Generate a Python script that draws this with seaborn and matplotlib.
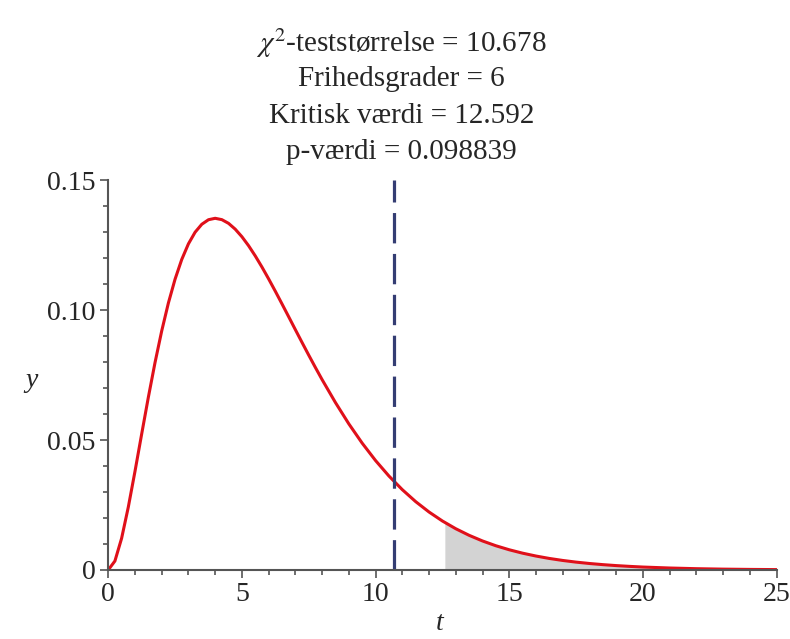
import numpy as np
import pandas as pd
import seaborn as sns
import matplotlib.pyplot as plt

# chi^2 density (6 df)
t_vals = [0, 0.25, 0.5, 0.75, 1, 1.25, 1.5, 1.75, 2, 2.25, 2.5, 2.75, 3, 3.25, 3.5,
          3.75, 4, 4.25, 4.5, 4.75, 5, 5.25, 5.5, 5.75, 6, 6.25, 6.5, 6.75, 7, 7.25,
          7.5, 7.75, 8, 8.5, 9, 9.5, 10, 10.5, 11, 11.5, 12, 12.5, 13, 13.5, 14,
          14.5, 15, 15.5, 16, 16.5, 17, 17.5, 18, 18.5, 19, 19.5, 20, 21, 22, 23,
          24, 25]
y_vals = [0, 0.00345, 0.01217, 0.02416, 0.03791, 0.05227, 0.06643, 0.07980, 0.09197,
          0.10273, 0.11191, 0.11950, 0.12551, 0.12999, 0.13304, 0.13479, 0.13534,
          0.13482, 0.13340, 0.13116, 0.12825, 0.12479, 0.12086, 0.11658, 0.11202,
          0.10727, 0.10239, 0.09745, 0.09248, 0.08755, 0.08268, 0.07791, 0.07326,
          0.06442, 0.05623, 0.04880, 0.04211, 0.03616, 0.03091, 0.02631, 0.02231,
          0.01885, 0.01588, 0.01334, 0.01117, 0.00933, 0.00778, 0.00647, 0.00537,
          0.00444, 0.00367, 0.00303, 0.00250, 0.00206, 0.00169, 0.00139, 0.00113,
          0.00076, 0.00050, 0.00033, 0.00022, 0.00015]

test_stat = 10.678
crit_val = 12.592
crit_y = 0.01826
title_lines = ["$\\chi^2$-teststørrelse = 10.678", "Frihedsgrader = 6",
               "Kritisk værdi = 12.592", "p-værdi = 0.098839"]

df = pd.DataFrame({"t": t_vals, "y": y_vals})

sns.set_style("white")
plt.rcParams["font.family"] = ["Liberation Serif", "DejaVu Serif"]
plt.rcParams["mathtext.fontset"] = "stix"

fig = plt.figure(figsize=(7.9, 6.39), dpi=100)
ax = fig.add_axes([0.137, 0.108, 0.846, 0.610])

# shaded tail beyond the critical value
tail = df[df.t > crit_val]
tail_t = [crit_val] + list(tail.t)
tail_y = [crit_y] + list(tail.y)
ax.fill_between(tail_t, 0, tail_y, color="#d3d3d3", lw=0)

sns.lineplot(data=df, x="t", y="y", color="#e0101a", lw=2.2, ax=ax)
ax.axvline(test_stat, color="#343d73", lw=2.3, ls=(0, (9.5, 3.3)))

ax.set_xlim(0, 25)
ax.set_ylim(0, 0.15)
ax.set_xticks([0, 5, 10, 15, 20, 25])
ax.set_xticklabels(["0", "5", "10", "15", "20", "25"])
ax.set_yticks([0, 0.05, 0.10, 0.15])
ax.set_yticklabels(["0", "0.05", "0.10", "0.15"])
ax.set_xticks(np.arange(0, 26, 1), minor=True)
ax.set_yticks(np.arange(0, 0.151, 0.01), minor=True)
ax.tick_params(which="major", length=6, width=1.2, color="#555555", labelsize=20,
               direction="out", bottom=True, left=True, pad=3)
ax.tick_params(which="minor", length=3.5, width=1.2, color="#555555",
               direction="out", bottom=True, left=True)
for s in ["top", "right"]:
    ax.spines[s].set_visible(False)
for s in ["left", "bottom"]:
    ax.spines[s].set_color("#555555")
    ax.spines[s].set_linewidth(1.5)

ax.set_xlabel("")
ax.set_ylabel("")
fig.text(0.557, 0.004, "t", fontsize=20, style="italic", ha="center", va="bottom")
fig.text(0.04, 0.405, "y", fontsize=20, style="italic", ha="center", va="center")

for i, line in enumerate(title_lines):
    fig.text(0.508, 0.933 - i * 0.057, line, fontsize=21, ha="center", va="center")

fig.savefig("out.png", dpi=100)
